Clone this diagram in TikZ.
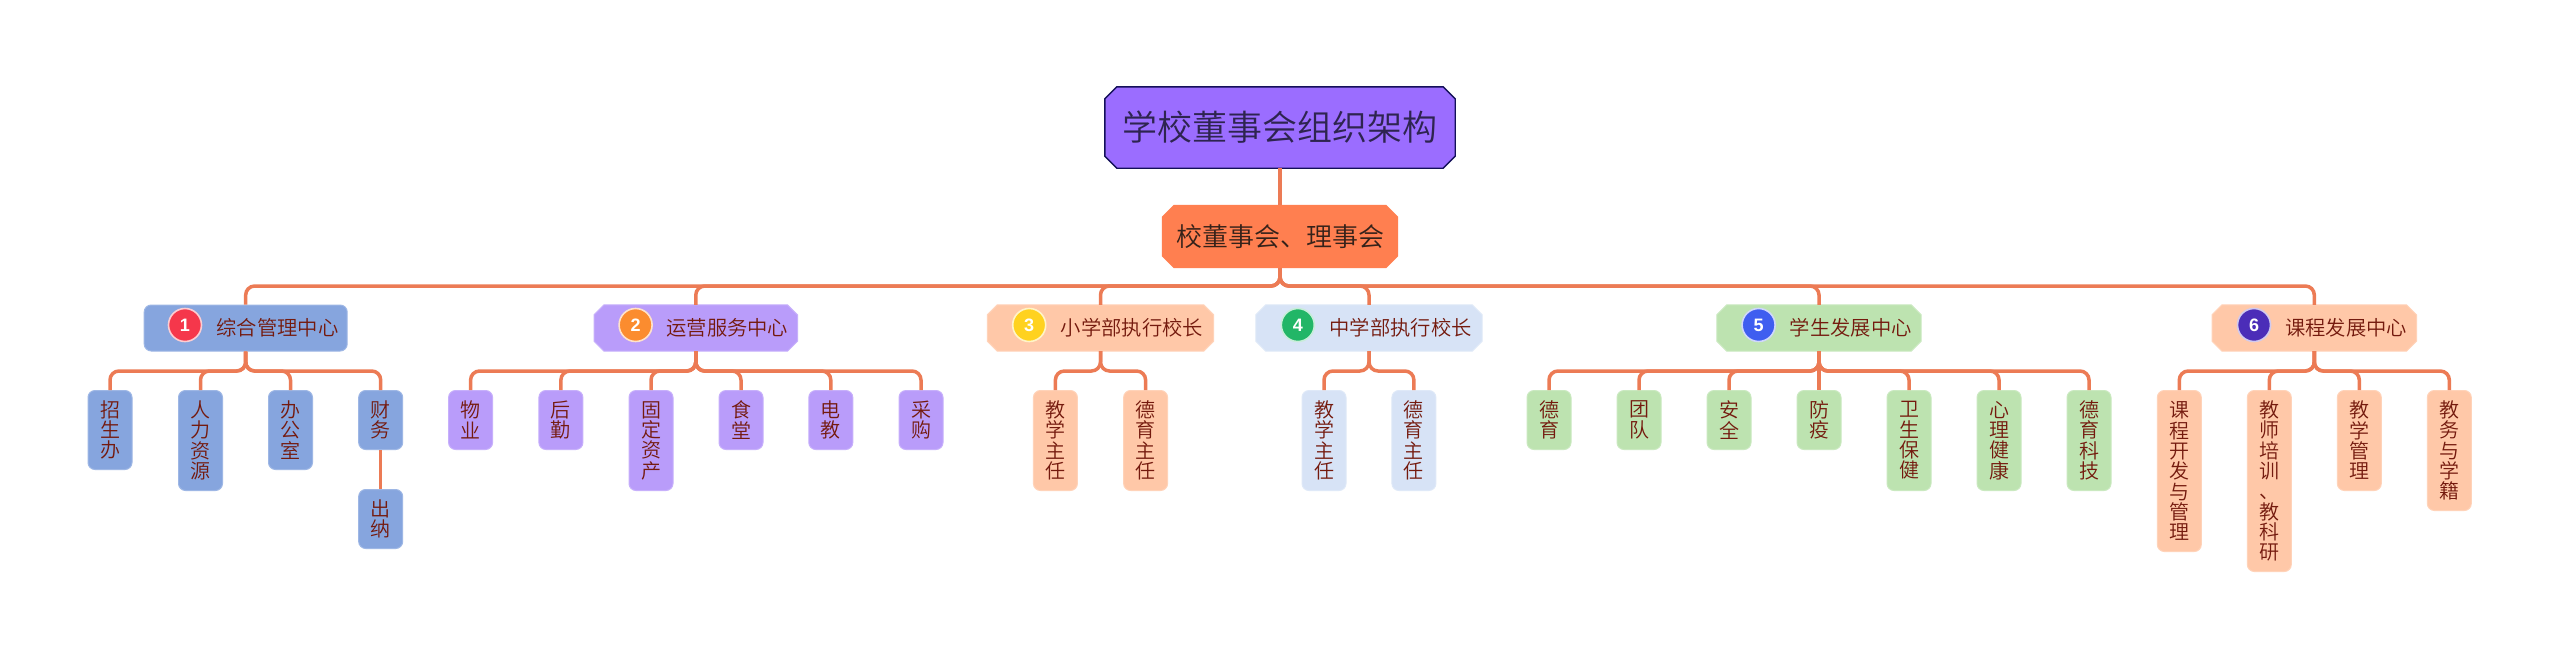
\documentclass[tikz,border=0pt]{standalone}
\usepackage{fontspec}
\setmainfont{Noto Sans CJK SC}[UprightFont=* DemiLight]
\newfontfamily\numfont{Liberation Sans}
\usetikzlibrary{backgrounds}
\definecolor{cline}{HTML}{EC7B55}
\definecolor{froot}{HTML}{9B6DFF}
\definecolor{fsec}{HTML}{FF7F50}
\definecolor{fa}{HTML}{86A5DE}
\definecolor{fb}{HTML}{B99CFA}
\definecolor{fc}{HTML}{FFC8A8}
\definecolor{fd}{HTML}{D7E3F6}
\definecolor{fe}{HTML}{BDE3B0}
\definecolor{txt}{HTML}{741A0E}
\definecolor{rootborder}{HTML}{14105A}
\definecolor{roottxt}{HTML}{2E2450}
\definecolor{sectxt}{HTML}{35221A}
\tikzset{
  conn/.style={draw=cline,line width=3.5pt,rounded corners=9pt},
  rootbox/.style={rectangle,inner sep=0pt,minimum width=350pt,minimum height=81pt,text=roottxt,font=\fontsize{35}{35}\selectfont},
  secbox/.style={rectangle,inner sep=0pt,minimum width=236pt,minimum height=63pt,text=sectxt,font=\fontsize{26}{26}\selectfont},
  chbox/.style={rectangle,inner sep=0pt,minimum height=46pt},
  rbox/.style={rectangle,rounded corners=7pt,inner sep=0pt,minimum height=46pt,draw=#1!80!white,fill=#1,line width=1pt},
  kid/.style n args={2}{rectangle,rounded corners=7pt,inner sep=0pt,anchor=north,minimum width=44pt,minimum height=#2,draw=#1!80!white,fill=#1,line width=1pt,align=center,text=txt,font=\fontsize{20}{20.3}\selectfont},
  lab/.style={text=txt,inner sep=0pt,font=\fontsize{20.3}{20.3}\selectfont},
  num/.style={circle,inner sep=0pt,minimum size=33pt,fill=#1,draw=white!75!#1,line width=1.6pt,text=white,font=\numfont\bfseries\fontsize{18}{18}\selectfont},
  plate/.style={draw=#1!80!white,fill=#1,line width=1pt},
}
\newcommand\chamf[3]{%
  \path[#3] ([xshift=#2pt]#1.north west) -- ([xshift=-#2pt]#1.north east) -- ([yshift=-#2pt]#1.north east)
    -- ([yshift=#2pt]#1.south east) -- ([xshift=-#2pt]#1.south east) -- ([xshift=#2pt]#1.south west)
    -- ([yshift=#2pt]#1.south west) -- ([yshift=-#2pt]#1.north west) -- cycle;}
\begin{document}
\begin{tikzpicture}[x=1pt,y=-1pt]
\useasboundingbox (0,0) rectangle (2560,659);
% top
\node[rootbox] (root) at (1280,127.5) {学校董事会组织架构};
\node[secbox] (sec) at (1280,236.5) {校董事会、理事会};
\draw[conn] (root.south) -- (sec.north);
% branches
\node[rbox=fa,minimum width=203pt] (b1) at (245.7,328) {};
\node[chbox,minimum width=203pt] (b2) at (695.8,328) {};
\node[chbox,minimum width=226pt] (b3) at (1100.5,328) {};
\node[chbox,minimum width=226pt] (b4) at (1369,328) {};
\node[chbox,minimum width=204pt] (b5) at (1819,328) {};
\node[chbox,minimum width=204pt] (b6) at (2314.3,328) {};
\begin{scope}[on background layer]
  \fill[white] (0,0) rectangle (2560,659);
  \chamf{root}{12}{draw=rootborder,fill=froot,line width=1.4pt}
  \chamf{sec}{12}{fill=fsec}
  \chamf{b2}{10}{plate=fb}
  \chamf{b3}{10}{plate=fc}
  \chamf{b4}{10}{plate=fd}
  \chamf{b5}{10}{plate=fe}
  \chamf{b6}{10}{plate=fc}
\end{scope}
\foreach \b in {b1,b2,b3,b4,b5,b6}{\draw[conn] (sec.south) -- (sec.south |- 0,286) -| (\b.north);}
% badges and labels
\definecolor{n1}{HTML}{F5374B}\definecolor{n2}{HTML}{FB8C2F}\definecolor{n3}{HTML}{FFD21F}
\definecolor{n4}{HTML}{22B667}\definecolor{n5}{HTML}{3F5EF0}\definecolor{n6}{HTML}{4B2DB8}
\node[num=n1] (c1) at (185,325) {1};
\node[lab] (t1) at (277.5,328) {综合管理中心};
\node[num=n2] (c2) at (635.6,325) {2};
\node[lab] (t2) at (727.3,328) {运营服务中心};
\node[num=n3] (c3) at (1029.2,325) {3};
\node[lab] (t3) at (1132,328) {小学部执行校长};
\node[num=n4] (c4) at (1297.8,325) {4};
\node[lab] (t4) at (1400.7,328) {中学部执行校长};
\node[num=n5] (c5) at (1758.6,325) {5};
\node[lab] (t5) at (1850.7,328) {学生发展中心};
\node[num=n6] (c6) at (2254,325) {6};
\node[lab] (t6) at (2346.2,328) {课程发展中心};
% kids branch 1
\node[kid={fa}{79pt}] (a1) at (110,390) {招\\生\\办};
\node[kid={fa}{100pt}] (a2) at (200.5,390) {人\\力\\资\\源};
\node[kid={fa}{79pt}] (a3) at (290.5,390) {办\\公\\室};
\node[kid={fa}{59pt}] (a4) at (380.7,390) {财\\务};
\node[kid={fa}{59pt}] (a5) at (380.7,489) {出\\纳};
\foreach \k in {a1,a2,a3,a4}{\draw[conn] (b1.south) -- (b1.south |- 0,371) -| (\k.north);}
\draw[conn] (a4.south) -- (a5.north);
% branch 2
\node[kid={fb}{59pt}] (e1) at (470.6,390) {物\\业};
\node[kid={fb}{59pt}] (e2) at (560.9,390) {后\\勤};
\node[kid={fb}{100pt}] (e3) at (651,390) {固\\定\\资\\产};
\node[kid={fb}{59pt}] (e4) at (741,390) {食\\堂};
\node[kid={fb}{59pt}] (e5) at (830.8,390) {电\\教};
\node[kid={fb}{59pt}] (e6) at (921,390) {采\\购};
\foreach \k in {e1,e2,e3,e4,e5,e6}{\draw[conn] (b2.south) -- (b2.south |- 0,371) -| (\k.north);}
% branch 3
\node[kid={fc}{100pt}] (f1) at (1055.4,390) {教\\学\\主\\任};
\node[kid={fc}{100pt}] (f2) at (1145.6,390) {德\\育\\主\\任};
\foreach \k in {f1,f2}{\draw[conn] (b3.south) -- (b3.south |- 0,371) -| (\k.north);}
% branch 4
\node[kid={fd}{100pt}] (g1) at (1324,390) {教\\学\\主\\任};
\node[kid={fd}{100pt}] (g2) at (1413.9,390) {德\\育\\主\\任};
\foreach \k in {g1,g2}{\draw[conn] (b4.south) -- (b4.south |- 0,371) -| (\k.north);}
% branch 5
\node[kid={fe}{59pt}] (h1) at (1549,390) {德\\育};
\node[kid={fe}{59pt}] (h2) at (1639,390) {团\\队};
\node[kid={fe}{59pt}] (h3) at (1729,390) {安\\全};
\node[kid={fe}{59pt}] (h4) at (1819,390) {防\\疫};
\node[kid={fe}{100pt}] (h5) at (1909,390) {卫\\生\\保\\健};
\node[kid={fe}{100pt}] (h6) at (1999,390) {心\\理\\健\\康};
\node[kid={fe}{100pt}] (h7) at (2089,390) {德\\育\\科\\技};
\foreach \k in {h1,h2,h3,h5,h6,h7}{\draw[conn] (b5.south) -- (b5.south |- 0,371) -| (\k.north);}
\draw[conn] (b5.south) -- (h4.north);
% branch 6
\node[kid={fc}{161pt}] (j1) at (2179.3,390) {课\\程\\开\\发\\与\\管\\理};
\node[kid={fc}{181pt}] (j2) at (2269.3,390) {教\\师\\培\\训\\、\\教\\科\\研};
\node[kid={fc}{100pt}] (j3) at (2359.3,390) {教\\学\\管\\理};
\node[kid={fc}{120pt}] (j4) at (2449.3,390) {教\\务\\与\\学\\籍};
\foreach \k in {j1,j2,j3,j4}{\draw[conn] (b6.south) -- (b6.south |- 0,371) -| (\k.north);}
\end{tikzpicture}
\end{document}
